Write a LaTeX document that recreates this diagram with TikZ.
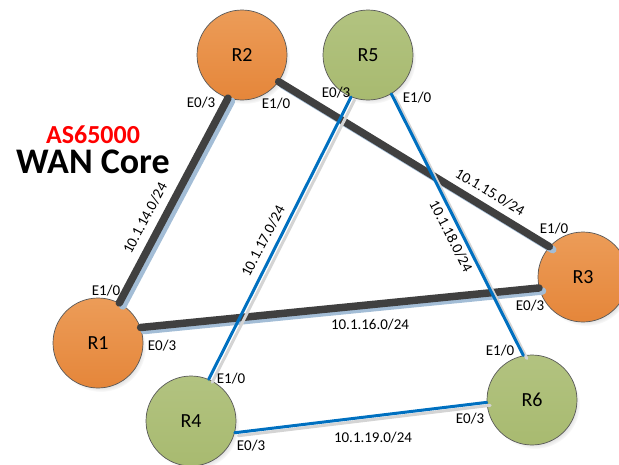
\documentclass[tikz,border=0pt]{standalone}
\usepackage{fontspec}
\setmainfont{Carlito}
\usetikzlibrary{shadows}
\definecolor{orTop}{HTML}{EC9C58}
\definecolor{orBot}{HTML}{E5863A}
\definecolor{grTop}{HTML}{B2C380}
\definecolor{grBot}{HTML}{A8BA70}
\definecolor{wanGray}{HTML}{404040}
\definecolor{wanShadow}{HTML}{A3BDD6}
\definecolor{lanBlue}{HTML}{0070C0}
\definecolor{lanShadow}{HTML}{D4D4D4}
\definecolor{asRed}{HTML}{FF0000}
\begin{document}
\begin{tikzpicture}[x=1pt,y=-1pt,
  router/.style={circle, minimum size=90pt, inner sep=0pt, draw=black!65, line width=0.7pt,
    font=\fontsize{20}{24}\selectfont,
    circular drop shadow={shadow scale=1, shadow xshift=3pt, shadow yshift=-4pt, fill=black!30, opacity=0.5}},
  orangerouter/.style={router, top color=orTop, bottom color=orBot},
  greenrouter/.style={router, top color=grTop, bottom color=grBot},
  wanlink/.style={draw=wanGray, line width=7.5pt, line cap=round,
    preaction={draw=wanShadow, line width=7.5pt, line cap=round, transform canvas={shift={(3.5pt,-3pt)}}}},
  lanlink/.style={draw=lanBlue, line width=3pt, line cap=round,
    preaction={draw=lanShadow, line width=3pt, line cap=round, transform canvas={shift={(3.5pt,-3pt)}}}},
  port/.style={font=\fontsize{15}{18}\selectfont, inner sep=0pt, anchor=base},
  net/.style={font=\fontsize{15}{18}\selectfont, inner sep=0pt}
]
\useasboundingbox (0,0) rectangle (619,464);

% routers
\node[orangerouter] (R2) at (242,55) {R2};
\node[greenrouter] (R5) at (368,55) {R5};
\node[orangerouter] (R1) at (98,343) {R1};
\node[orangerouter] (R3) at (583,277) {R3};
\node[greenrouter] (R4) at (191,421) {R4};
\node[greenrouter] (R6) at (532,400) {R6};

% WAN links
\draw[wanlink] (R2.252) -- (R1.62);
\draw[wanlink] (R2.324) -- (R3.138);
\draw[wanlink] (R1.20) -- (R3.194);

% LAN links
\draw[lanlink] (R5.248) -- (R4.67);
\draw[lanlink] (R5.301) -- (R6.101);
\draw[lanlink] (R4.345) -- (R6.183);

% title
\node[font=\fontsize{26}{30}\selectfont\bfseries, text=asRed, inner sep=0pt, anchor=base] (as) at (93,143.5) {AS65000};
\node[font=\fontsize{36}{40}\selectfont\bfseries, inner sep=0pt, anchor=base] (wan) at (93,173) {WAN Core};

% interface labels
\node[port] (p2a) at (201,107) {E0/3};
\node[port] (p2b) at (276,108) {E1/0};
\node[port] (p5a) at (336,97) {E0/3};
\node[port] (p5b) at (417,102) {E1/0};
\node[port] (p3a) at (554,233) {E1/0};
\node[port] (p3b) at (530,310) {E0/3};
\node[port] (p1a) at (106,295) {E1/0};
\node[port] (p1b) at (162,350) {E0/3};
\node[port] (p4a) at (231,383) {E1/0};
\node[port] (p4b) at (251,450) {E0/3};
\node[port] (p6a) at (500,355) {E1/0};
\node[port] (p6b) at (470,423) {E0/3};

% network labels
\node[net, rotate=62] (n14) at (145,218) {10.1.14.0/24};
\node[net, rotate=62.5] (n17) at (263,241) {10.1.17.0/24};
\node[net, rotate=-31] (n15) at (490,192) {10.1.15.0/24};
\node[net, rotate=-63] (n18) at (451,236) {10.1.18.0/24};
\node[port] (n16) at (370,329) {10.1.16.0/24};
\node[port] (n19) at (373,442) {10.1.19.0/24};
\end{tikzpicture}
\end{document}
